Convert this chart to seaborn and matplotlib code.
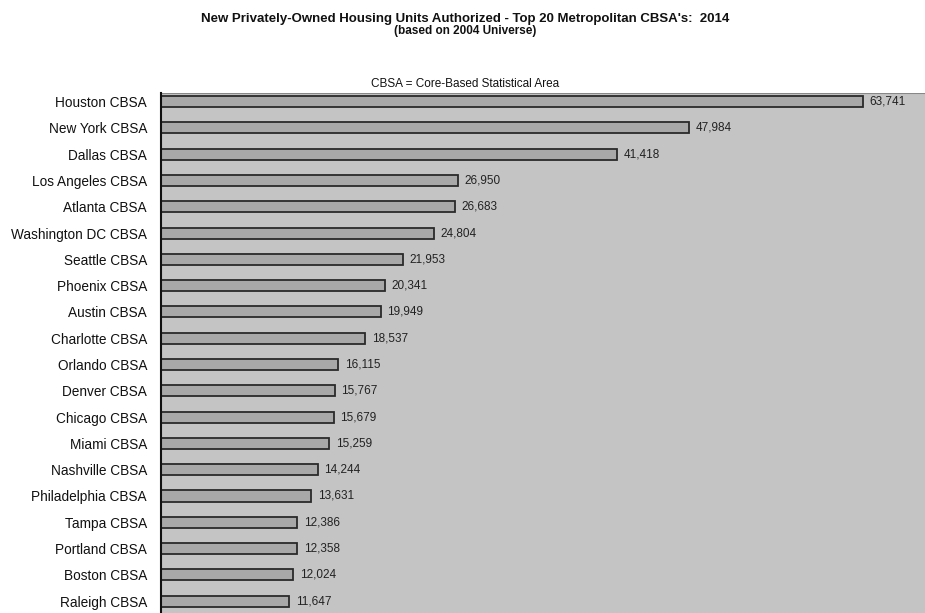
import matplotlib
matplotlib.use("Agg")
import matplotlib.pyplot as plt
import seaborn as sns
import pandas as pd

cities = ["Houston CBSA", "New York CBSA", "Dallas CBSA", "Los Angeles CBSA", "Atlanta CBSA",
          "Washington DC CBSA", "Seattle CBSA", "Phoenix CBSA", "Austin CBSA", "Charlotte CBSA",
          "Orlando CBSA", "Denver CBSA", "Chicago CBSA", "Miami CBSA", "Nashville CBSA",
          "Philadelphia CBSA", "Tampa CBSA", "Portland CBSA", "Boston CBSA", "Raleigh CBSA"]
units = [63741, 47984, 41418, 26950, 26683, 24804, 21953, 20341, 19949, 18537,
         16115, 15767, 15679, 15259, 14244, 13631, 12386, 12358, 12024, 11647]

df = pd.DataFrame({"city": cities, "units": units})

sns.set_theme(style="white")
plt.rcParams["font.family"] = ["Liberation Sans", "DejaVu Sans"]

fig = plt.figure(figsize=(9.25, 6.13), dpi=100)
ax = fig.add_axes([0.174, 0.0, 0.826, 0.848])
ax.set_facecolor("#c4c4c4")

sns.barplot(data=df, x="units", y="city", orient="h", color="#a8a8a8",
            edgecolor="#2a2a2a", linewidth=1.3, width=0.42, saturation=1, ax=ax)

ax.set_xlim(0, 69400)
ax.set_ylim(19.45, -0.32)
ax.set_xlabel("")
ax.set_ylabel("")
ax.set_xticks([])
ax.tick_params(axis="y", length=0, labelsize=9.8, pad=10, colors="#111111")

for i, v in enumerate(units):
    ax.text(v + 600, i, f"{v:,}", va="center", ha="left", fontsize=8.5, color="#222222")

for s in ["top", "right", "bottom"]:
    ax.spines[s].set_visible(False)
ax.spines["left"].set_color("#111111")
ax.spines["left"].set_linewidth(1.5)
ax.axhline(-0.32, color="#888888", linewidth=1.5)

fig.text(0.503, 0.969, "New Privately-Owned Housing Units Authorized - Top 20 Metropolitan CBSA's:  2014",
         ha="center", va="center", fontsize=9.5, fontweight="bold", color="#111111")
fig.text(0.503, 0.950, "(based on 2004 Universe)", ha="center", va="center",
         fontsize=8.5, fontweight="bold", color="#111111")
fig.text(0.503, 0.863, "CBSA = Core-Based Statistical Area", ha="center", va="center",
         fontsize=8.5, color="#111111")

fig.savefig("out.png", dpi=100, facecolor="white")
